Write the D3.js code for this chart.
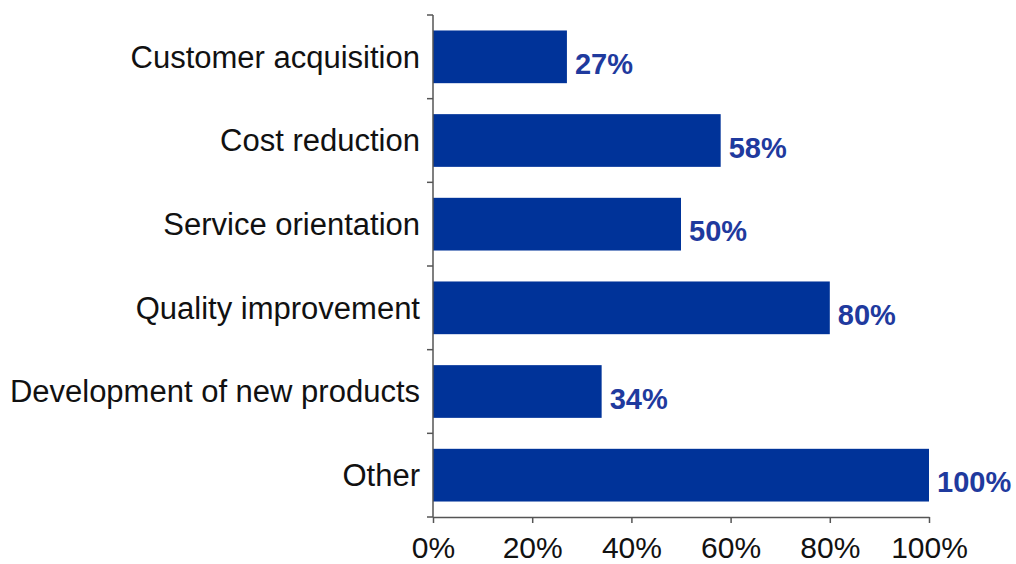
<!DOCTYPE html>
<html>
<head>
<meta charset="utf-8">
<script src="https://cdn.jsdelivr.net/npm/d3@7"></script>
<style>
  body { margin: 0; background: #fff; }
  svg { display: block; }
</style>
</head>
<body>
<div id="chart"></div>
<script>
// survey answers, top to bottom
var categories = ["Customer acquisition", "Cost reduction", "Service orientation",
                  "Quality improvement", "Development of new products", "Other"];
var shares = [27, 58, 50, 80, 34, 100];
var xTicks = [0, 20, 40, 60, 80, 100];

var width = 1016, height = 564;
var margin = { top: 15, right: 87, bottom: 47, left: 433 };

var svg = d3.select("#chart")
  .append("svg")
  .attr("width", width)
  .attr("height", height);

var x = d3.scaleLinear()
  .domain([0, 100])
  .range([margin.left, width - margin.right]);

var y = d3.scaleBand()
  .domain(categories)
  .range([margin.top, height - margin.bottom])
  .paddingInner(0.37)
  .paddingOuter(0.185);

var bars = categories.map(function(c, i) { return { name: c, value: shares[i] }; });

svg.selectAll(".bar")
  .data(bars)
  .enter().append("rect")
  .attr("class", "bar")
  .attr("x", x(0))
  .attr("y", function(d) { return y(d.name); })
  .attr("width", function(d) { return x(d.value) - x(0); })
  .attr("height", y.bandwidth())
  .style("fill", "#003399");

svg.selectAll(".val")
  .data(bars)
  .enter().append("text")
  .attr("class", "val")
  .attr("x", function(d) { return x(d.value) + 8; })
  .attr("y", function(d) { return y(d.name) + y.bandwidth() / 2 + 17; })
  .style("font-family", "Liberation Sans, Arial, sans-serif")
  .style("font-size", "29px")
  .style("font-weight", "bold")
  .style("fill", "#1f3a9e")
  .text(function(d) { return d.value + "%"; });

// x axis
var xAxis = svg.append("g")
  .attr("transform", "translate(0," + (height - margin.bottom) + ")")
  .call(d3.axisBottom(x).tickValues(xTicks).tickSize(6).tickSizeOuter(0)
    .tickFormat(function(d) { return d + "%"; }));
xAxis.select(".domain").style("stroke", "#555").style("stroke-width", 1.5);
xAxis.selectAll(".tick line").style("stroke", "#555").style("stroke-width", 1.5);
xAxis.selectAll(".tick text")
  .attr("dy", "0.95em")
  .attr("y", 12)
  .style("font-family", "Liberation Sans, Arial, sans-serif")
  .style("font-size", "30px")
  .style("fill", "#111");

// y axis, ticks sit between the bands
var yAxis = svg.append("g")
  .attr("transform", "translate(" + margin.left + ",0)");
yAxis.append("line")
  .attr("x1", 0).attr("x2", 0)
  .attr("y1", margin.top).attr("y2", height - margin.bottom)
  .style("stroke", "#555").style("stroke-width", 1.5);
var edges = d3.range(categories.length + 1).map(function(i) {
  return margin.top + i * (height - margin.top - margin.bottom) / categories.length;
});
yAxis.selectAll(".ytick")
  .data(edges)
  .enter().append("line")
  .attr("x1", -6).attr("x2", 0)
  .attr("y1", function(d) { return d; })
  .attr("y2", function(d) { return d; })
  .style("stroke", "#555").style("stroke-width", 1.5);

svg.selectAll(".cat")
  .data(categories)
  .enter().append("text")
  .attr("class", "cat")
  .attr("x", margin.left - 13)
  .attr("y", function(d) { return y(d) + y.bandwidth() / 2; })
  .attr("dy", "0.35em")
  .attr("text-anchor", "end")
  .style("font-family", "Liberation Sans, Arial, sans-serif")
  .style("font-size", "31px")
  .style("fill", "#111")
  .text(function(d) { return d; });
</script>
</body>
</html>
